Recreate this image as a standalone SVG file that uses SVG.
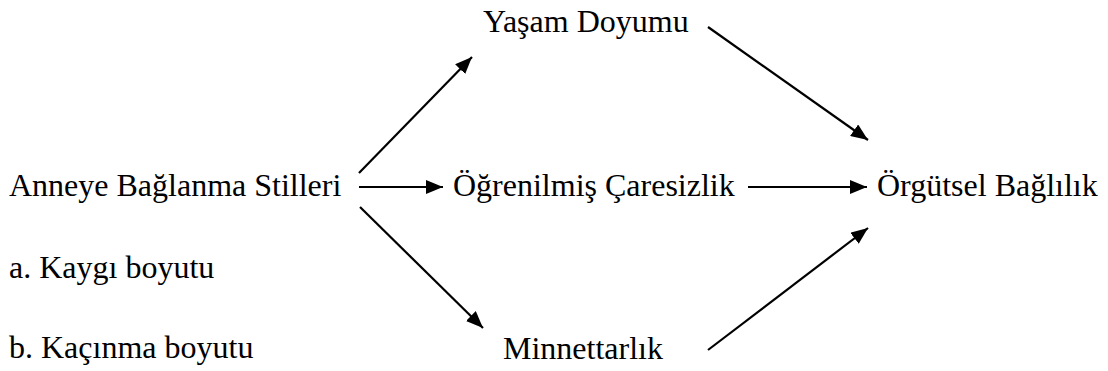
<svg xmlns="http://www.w3.org/2000/svg" width="1108" height="371" viewBox="0 0 1108 371">
<style>
.t{font-size:32px;fill:#000}
.c{stroke:#000;stroke-width:2.2;fill:none}
</style>
<defs>
<marker id="ah" markerUnits="userSpaceOnUse" markerWidth="18" markerHeight="14" viewBox="0 0 18 14" refX="17" refY="7" orient="auto">
<path d="M0,0 L17,7 L0,14 Z" fill="#000"/>
</marker>
</defs>
<rect width="1108" height="371" fill="#fff"/>
<g id="n-anneye"><text class="t" x="9" y="196" font-family="Liberation Serif, serif">Anneye Bağlanma Stilleri</text></g>
<g id="n-kaygi"><text class="t" x="9" y="278" font-family="Liberation Serif, serif">a. Kaygı boyutu</text></g>
<g id="n-kacinma"><text class="t" x="9" y="358" font-family="Liberation Serif, serif">b. Kaçınma boyutu</text></g>
<g id="n-yasam"><text class="t" x="483" y="32" font-family="Liberation Serif, serif">Yaşam Doyumu</text></g>
<g id="n-ogrenilmis"><text class="t" x="453" y="196" font-family="Liberation Serif, serif">Öğrenilmiş Çaresizlik</text></g>
<g id="n-minnet"><text class="t" x="503" y="359" font-family="Liberation Serif, serif">Minnettarlık</text></g>
<g id="n-orgutsel"><text class="t" x="877" y="196" font-family="Liberation Serif, serif">Örgütsel Bağlılık</text></g>
<g id="connectors">
<line class="c" x1="359" y1="173" x2="472" y2="57" marker-end="url(#ah)"/>
<line class="c" x1="359" y1="187" x2="443" y2="187" marker-end="url(#ah)"/>
<line class="c" x1="360" y1="207" x2="483" y2="328" marker-end="url(#ah)"/>
<line class="c" x1="708" y1="27" x2="868" y2="140" marker-end="url(#ah)"/>
<line class="c" x1="748" y1="187" x2="867" y2="187" marker-end="url(#ah)"/>
<line class="c" x1="708" y1="350" x2="868" y2="228" marker-end="url(#ah)"/>
</g>
</svg>
